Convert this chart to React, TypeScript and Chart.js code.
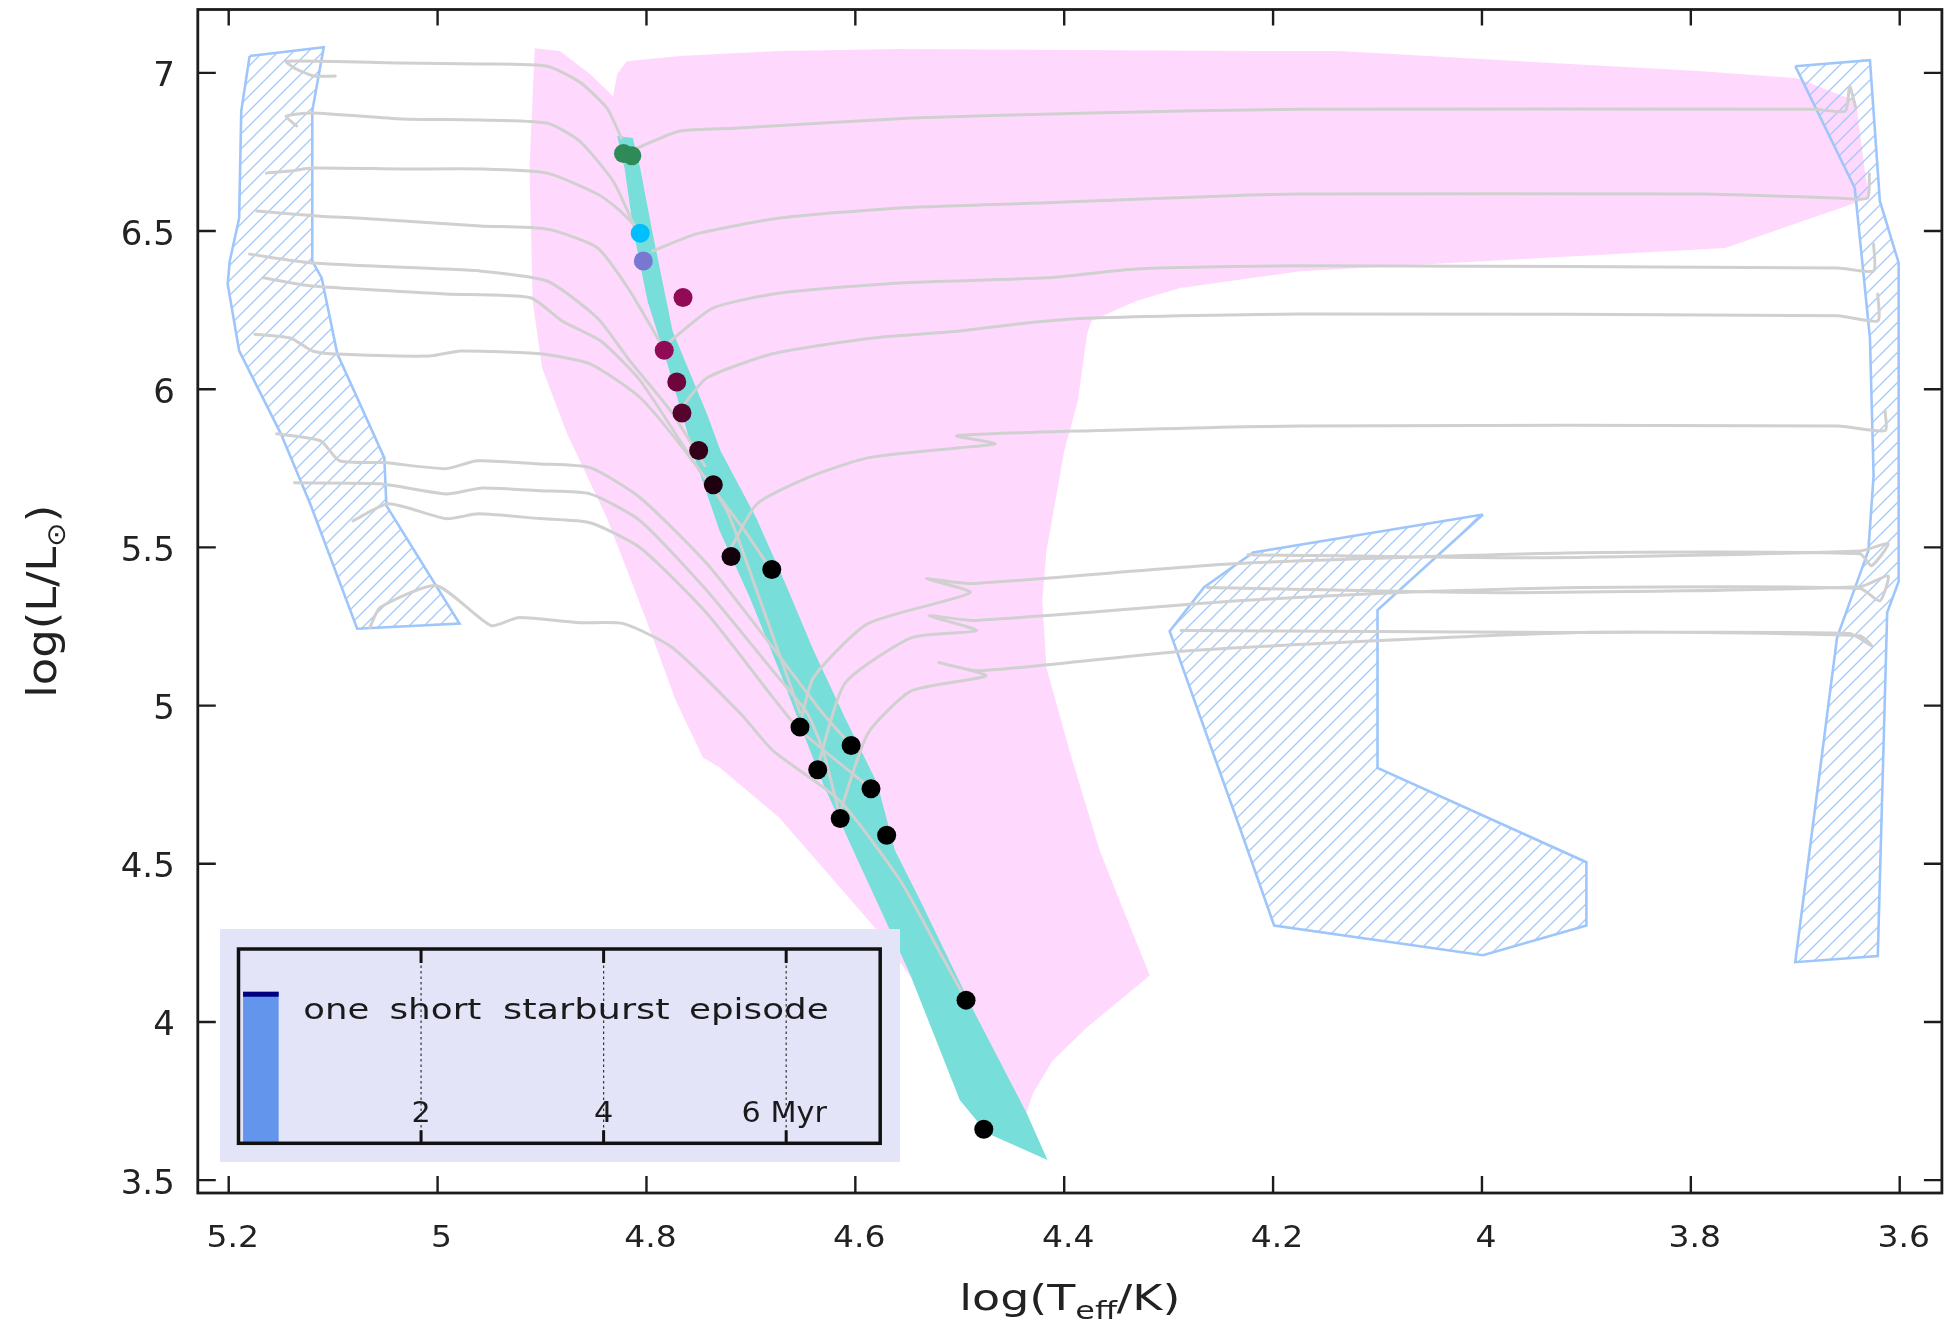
import React, { useEffect, useRef } from "react";
import { Chart, registerables } from "chart.js";
Chart.register(...registerables);

const W = 1959;
const H = 1328;
const FONT = '"DejaVu Sans", "Noto Sans", sans-serif';

// ---- layout (pixels) ----
const PLOT_LEFT = 197.8;
const PLOT_RIGHT = 1941.9;
const PLOT_TOP = 8.3;
const PLOT_BOTTOM = 1193;

// ---- axes ----
const xRange = [3.5596, 5.2296];
const yRange = [3.4594, 7.2002];
const xTickValues = [5.2, 5.0, 4.8, 4.6, 4.4, 4.2, 4.0, 3.8, 3.6];
const yTickValues = [3.5, 4.0, 4.5, 5.0, 5.5, 6.0, 6.5, 7.0];

// ---- observed stars ----
const starT = [4.822, 4.814, 4.806, 4.803, 4.765, 4.783, 4.771, 4.766, 4.75, 4.736, 4.719, 4.68, 4.653, 4.604, 4.636, 4.585, 4.6145, 4.57, 4.494, 4.477];
const starL = [6.745, 6.738, 6.493, 6.405, 6.29, 6.123, 6.023, 5.925, 5.806, 5.698, 5.471, 5.43, 4.932, 4.874, 4.797, 4.737, 4.643, 4.59, 4.069, 3.661];
const starColors = [
  "rgb(46,139,87)", "rgb(46,139,87)", "rgb(0,191,255)", "rgb(120,120,210)",
  "rgb(145,10,85)", "rgb(145,10,85)", "rgb(110,5,60)", "rgb(85,5,45)",
  "rgb(50,0,25)", "rgb(30,0,15)", "rgb(20,0,10)", "#000", "#000", "#000",
  "#000", "#000", "#000", "#000", "#000", "#000",
];

// ---- pink region ----
const pinkT = [4.907, 4.883, 4.854, 4.832, 4.828, 4.819, 4.768, 4.673, 4.557, 4.222, 4.136, 3.963, 3.789, 3.698, 3.642, 3.633, 3.629, 3.767, 4.174, 4.289, 4.331, 4.374, 4.378, 4.387, 4.4, 4.417, 4.421, 4.417, 4.395, 4.366, 4.347, 4.318, 4.378, 4.411, 4.43, 4.436, 4.5, 4.548, 4.579, 4.618, 4.673, 4.73, 4.746, 4.772, 4.801, 4.838, 4.876, 4.9, 4.909, 4.912];
const pinkL = [7.078, 7.069, 6.996, 6.926, 6.996, 7.037, 7.053, 7.069, 7.075, 7.069, 7.069, 7.037, 7.005, 6.983, 6.911, 6.68, 6.604, 6.446, 6.373, 6.32, 6.279, 6.216, 6.175, 5.963, 5.805, 5.489, 5.331, 5.12, 4.858, 4.542, 4.384, 4.147, 3.983, 3.878, 3.774, 3.712, 3.91, 4.147, 4.289, 4.438, 4.646, 4.804, 4.836, 5.016, 5.278, 5.594, 5.859, 6.068, 6.279, 6.699];

// ---- main-sequence band ----
const bandT = [4.828, 4.821, 4.812, 4.799, 4.78, 4.752, 4.73, 4.701, 4.669, 4.646, 4.631, 4.602, 4.58, 4.548, 4.5, 4.474, 4.416, 4.436, 4.487, 4.538, 4.562, 4.579, 4.61, 4.64, 4.667, 4.695, 4.729, 4.742, 4.775, 4.794, 4.806, 4.813];
const bandL = [6.8, 6.699, 6.491, 6.279, 6.08, 5.764, 5.553, 5.341, 5.079, 4.88, 4.754, 4.542, 4.385, 4.154, 3.753, 3.649, 3.564, 3.712, 4.037, 4.385, 4.542, 4.754, 4.962, 5.174, 5.386, 5.594, 5.805, 5.922, 6.184, 6.491, 6.699, 6.794];

// ---- hatched regions ----
const hatchLeftT = [5.18, 5.109, 5.12, 5.12, 5.111, 5.096, 5.051, 5.049, 4.979, 5.077, 5.122, 5.15, 5.19, 5.201, 5.199, 5.19, 5.188];
const hatchLeftL = [7.053, 7.081, 6.879, 6.405, 6.352, 6.112, 5.783, 5.632, 5.259, 5.243, 5.638, 5.859, 6.121, 6.333, 6.405, 6.541, 6.879];
const hatchMidT = [3.999, 4.219, 4.266, 4.299, 4.229, 4.199, 3.999, 3.9, 3.9, 4.1, 4.1];
const hatchMidL = [5.604, 5.484, 5.374, 5.235, 4.587, 4.305, 4.211, 4.305, 4.505, 4.803, 5.302];
const hatchRightT = [3.7, 3.6285, 3.619, 3.601, 3.601, 3.612, 3.621, 3.7, 3.66, 3.63, 3.625, 3.6285, 3.643];
const hatchRightL = [7.021, 7.04, 6.595, 6.399, 5.392, 5.294, 4.208, 4.189, 5.215, 5.49, 5.727, 6.162, 6.636];

// ---- evolutionary tracks ----
const trk01T = [4.824, 4.838, 4.864, 4.895, 4.959, 5.034, 5.145, 5.137, 5.119, 5.098];
const trk01L = [6.794, 6.889, 6.971, 7.021, 7.028, 7.031, 7.037, 7.015, 6.99, 6.99];
const trk02T = [4.812, 4.832, 4.864, 4.895, 4.959, 5.034, 5.12, 5.145, 5.135];
const trk02L = [6.519, 6.658, 6.784, 6.841, 6.851, 6.854, 6.873, 6.863, 6.832];
const trk03T = [4.806, 4.825, 4.847, 4.895, 4.959, 5.034, 5.12, 5.141, 5.164];
const trk03L = [6.5, 6.563, 6.617, 6.683, 6.696, 6.696, 6.699, 6.69, 6.683];
const trk04T = [4.785, 4.816, 4.847, 4.895, 4.959, 5.077, 5.112, 5.173];
const trk04L = [6.137, 6.311, 6.447, 6.506, 6.516, 6.541, 6.547, 6.563];
const trk05T = [4.744, 4.777, 4.816, 4.847, 4.895, 4.959, 4.992, 5.12, 5.18];
const trk05L = [5.758, 5.932, 6.09, 6.225, 6.342, 6.374, 6.38, 6.399, 6.427];
const trk06T = [4.681, 4.706, 4.749, 4.806, 4.844, 4.881, 4.911, 4.992, 5.12, 5.167];
const trk06L = [5.43, 5.553, 5.742, 6.027, 6.153, 6.216, 6.289, 6.301, 6.326, 6.352];
const trk07T = [4.653, 4.691, 4.723, 4.758, 4.806, 4.854, 4.902, 4.978, 5.008, 5.103, 5.12, 5.141, 5.175];
const trk07L = [4.978, 5.331, 5.616, 5.783, 5.973, 6.08, 6.112, 6.121, 6.105, 6.112, 6.121, 6.162, 6.174];
const trk08T = [4.604, 4.631, 4.679, 4.742, 4.806, 4.854, 4.902, 4.962, 4.992, 5.051, 5.094, 5.112, 5.154];
const trk08L = [4.874, 4.975, 5.183, 5.448, 5.657, 5.752, 5.764, 5.774, 5.749, 5.768, 5.774, 5.837, 5.859];
const trk09T = [4.615, 4.631, 4.646, 4.679, 4.742, 4.806, 4.854, 4.902, 4.957, 4.992, 5.055, 5.137];
const trk09L = [4.653, 4.858, 4.975, 5.11, 5.363, 5.584, 5.669, 5.679, 5.688, 5.669, 5.701, 5.704];
const trk10T = [4.585, 4.653, 4.679, 4.742, 4.806, 4.854, 4.902, 4.961, 4.992, 5.047, 5.081];
const trk10L = [4.738, 4.922, 5.026, 5.291, 5.499, 5.578, 5.591, 5.606, 5.591, 5.638, 5.584];
const trk11T = [4.494, 4.52, 4.557, 4.615, 4.679, 4.71, 4.775, 4.822, 4.864, 4.923, 4.949, 5.001, 5.055, 5.065];
const trk11L = [4.069, 4.226, 4.447, 4.7, 4.858, 4.975, 5.183, 5.259, 5.262, 5.278, 5.253, 5.379, 5.31, 5.246];
const trk12T = [4.809, 4.768, 4.716, 4.546, 4.374, 4.174, 3.681, 3.652, 3.648, 3.642];
const trk12L = [6.762, 6.816, 6.825, 6.857, 6.873, 6.885, 6.885, 6.879, 6.958, 6.889];
const trk13T = [4.794, 4.752, 4.672, 4.557, 4.417, 4.246, 4.174, 3.789, 3.659, 3.631, 3.629];
const trk13L = [6.437, 6.491, 6.541, 6.573, 6.589, 6.611, 6.617, 6.617, 6.604, 6.604, 6.68];
const trk14T = [4.777, 4.736, 4.672, 4.557, 4.417, 4.331, 4.174, 3.659, 3.625, 3.625];
const trk14L = [6.153, 6.257, 6.304, 6.336, 6.352, 6.38, 6.39, 6.383, 6.374, 6.459];
const trk15T = [4.765, 4.742, 4.679, 4.583, 4.5, 4.434, 4.374, 4.174, 3.659, 3.621, 3.621];
const trk15L = [5.948, 6.036, 6.112, 6.162, 6.184, 6.21, 6.225, 6.238, 6.232, 6.216, 6.301];
const trk16T = [4.719, 4.694, 4.646, 4.588, 4.5, 4.466, 4.503, 4.374, 4.174, 3.659, 3.614, 3.614];
const trk16L = [5.499, 5.638, 5.72, 5.783, 5.815, 5.828, 5.853, 5.869, 5.884, 5.884, 5.869, 5.932];
const trk17T = [4.653, 4.64, 4.588, 4.49, 4.532, 4.49, 4.234, 3.906, 3.638, 3.627, 3.611, 3.638, 3.954, 4.224];
const trk17L = [4.94, 5.089, 5.259, 5.357, 5.401, 5.386, 5.449, 5.483, 5.48, 5.442, 5.512, 5.489, 5.467, 5.477];
const trk18T = [4.635, 4.61, 4.546, 4.484, 4.529, 4.485, 4.234, 4.085, 3.906, 3.638, 3.619, 3.611, 3.638, 3.974, 4.263];
const trk18L = [4.82, 5.07, 5.215, 5.237, 5.284, 5.269, 5.331, 5.357, 5.373, 5.37, 5.331, 5.41, 5.376, 5.357, 5.373];
const trk19T = [4.614, 4.588, 4.546, 4.475, 4.52, 4.481, 4.278, 3.906, 3.638, 3.627, 3.648, 3.918, 4.288];
const trk19L = [4.669, 4.912, 5.047, 5.094, 5.136, 5.11, 5.174, 5.231, 5.221, 5.189, 5.228, 5.231, 5.237];

const tracks: [number[], number[]][] = [
  [trk01T, trk01L], [trk02T, trk02L], [trk03T, trk03L], [trk04T, trk04L],
  [trk05T, trk05L], [trk06T, trk06L], [trk07T, trk07L], [trk08T, trk08L],
  [trk09T, trk09L], [trk10T, trk10L], [trk11T, trk11L], [trk12T, trk12L],
  [trk13T, trk13L], [trk14T, trk14L], [trk15T, trk15L], [trk16T, trk16L],
  [trk17T, trk17L], [trk18T, trk18L], [trk19T, trk19L],
];

// ---- inset (star-formation history) ----
const insetRange = [0, 7.03];
const insetTickValues = [2, 4, 6];
const insetTickLabels = ["2", "4", "6 Myr"];
const burstStart = 0.05;
const burstEnd = 0.44;
const burstHeight = 0.78;
const burstTopLine = 0.767;
const insetWords = ["one", "short", "starburst", "episode"];

const pts = (t: number[], l: number[]) => t.map((v, i) => ({ x: v, y: l[i] }));
const closed = (t: number[], l: number[]) => {
  const p = pts(t, l);
  p.push({ ...p[0] });
  return p;
};
const fmt = (v: number) => String(Math.round(v * 10) / 10);

type Seg = { t: string; size: number; dy?: number; family?: string };
function measureSegs(ctx: CanvasRenderingContext2D, segs: Seg[]) {
  let w = 0;
  for (const s of segs) {
    ctx.font = `${s.size}px ${s.family ?? FONT}`;
    w += ctx.measureText(s.t).width;
  }
  return w;
}
function drawSegs(
  ctx: CanvasRenderingContext2D,
  segs: Seg[],
  x: number,
  y: number,
  opts: { width?: number; scale?: number; align?: "left" | "center" | "right" }
) {
  const nat = measureSegs(ctx, segs);
  const sx = opts.width ? opts.width / nat : opts.scale ?? 1;
  const total = nat * sx;
  let x0 = x;
  if (opts.align === "center") x0 = x - total / 2;
  else if (opts.align === "right") x0 = x - total;
  ctx.save();
  ctx.translate(x0, y);
  ctx.scale(sx, 1);
  ctx.textAlign = "left";
  ctx.textBaseline = "alphabetic";
  let cx = 0;
  for (const s of segs) {
    ctx.font = `${s.size}px ${s.family ?? FONT}`;
    ctx.fillText(s.t, cx, s.dy ?? 0);
    cx += ctx.measureText(s.t).width;
  }
  ctx.restore();
}

function makeHatch(): CanvasPattern | string {
  const c = document.createElement("canvas");
  c.width = 15;
  c.height = 15;
  const g = c.getContext("2d");
  if (!g) return "rgba(160,200,250,0.3)";
  g.strokeStyle = "rgba(160,198,250,0.95)";
  g.lineWidth = 1.3;
  g.beginPath();
  g.moveTo(-2, 17);
  g.lineTo(17, -2);
  g.moveTo(-2, 2);
  g.lineTo(2, -2);
  g.moveTo(13, 17);
  g.lineTo(17, 13);
  g.stroke();
  return g.createPattern(c, "repeat") ?? "rgba(160,200,250,0.3)";
}

const framePlugin = {
  id: "frame",
  beforeDraw(chart: any) {
    const { ctx } = chart;
    ctx.save();
    ctx.fillStyle = "#fff";
    ctx.fillRect(0, 0, chart.width, chart.height);
    ctx.restore();
  },
  afterDatasetsDraw(chart: any) {
    const { ctx, chartArea: a, scales } = chart;
    ctx.save();
    ctx.strokeStyle = "#1c1c1c";
    ctx.lineWidth = 2.4;
    ctx.beginPath();
    for (const v of xTickValues) {
      const px = scales.x.getPixelForValue(v);
      ctx.moveTo(px, a.bottom);
      ctx.lineTo(px, a.bottom - 17);
      ctx.moveTo(px, a.top);
      ctx.lineTo(px, a.top + 16);
    }
    for (const v of yTickValues) {
      const py = scales.y.getPixelForValue(v);
      ctx.moveTo(a.left, py);
      ctx.lineTo(a.left + 18, py);
      ctx.moveTo(a.right, py);
      ctx.lineTo(a.right - 18, py);
    }
    ctx.stroke();
    ctx.lineWidth = 2.8;
    ctx.strokeRect(a.left, a.top, a.right - a.left, a.bottom - a.top);

    ctx.fillStyle = "#222";
    for (const v of xTickValues) {
      const px = scales.x.getPixelForValue(v);
      drawSegs(ctx, [{ t: fmt(v), size: 30 }], px + 4, a.bottom + 53.5, { align: "center", scale: 1.1 });
    }
    for (const v of yTickValues) {
      const py = scales.y.getPixelForValue(v);
      drawSegs(ctx, [{ t: fmt(v), size: 34 }], a.left - 23, py + 13.5, { align: "right" });
    }
    // x title
    drawSegs(
      ctx,
      [
        { t: "log(T", size: 36 },
        { t: "eff", size: 25, dy: 9 },
        { t: "/K)", size: 36 },
      ],
      (a.left + a.right) / 2,
      a.bottom + 117,
      { align: "center", width: 221 }
    );
    // y title
    ctx.save();
    ctx.translate(56, (a.top + a.bottom) / 2);
    ctx.rotate(-Math.PI / 2);
    drawSegs(
      ctx,
      [
        { t: "log(L/L", size: 40 },
        { t: "\u2299", size: 26, dy: 9 },
        { t: ")", size: 40 },
      ],
      0,
      0,
      { align: "center", width: 193 }
    );
    ctx.restore();
    ctx.restore();
  },
};

const insetPlugin = {
  id: "insetDeco",
  beforeDraw(chart: any) {
    const { ctx, chartArea: a, scales } = chart;
    ctx.save();
    ctx.fillStyle = "rgb(228,228,248)";
    ctx.fillRect(0, 0, chart.width, chart.height);
    ctx.strokeStyle = "#333";
    ctx.lineWidth = 1.2;
    ctx.setLineDash([2.5, 3]);
    ctx.beginPath();
    for (const v of insetTickValues) {
      const px = scales.x.getPixelForValue(v);
      ctx.moveTo(px, a.top);
      ctx.lineTo(px, a.bottom);
    }
    ctx.stroke();
    ctx.restore();
  },
  afterDatasetsDraw(chart: any) {
    const { ctx, chartArea: a, scales } = chart;
    ctx.save();
    ctx.strokeStyle = "#111";
    ctx.lineWidth = 3;
    ctx.beginPath();
    for (const v of insetTickValues) {
      const px = scales.x.getPixelForValue(v);
      ctx.moveTo(px, a.top);
      ctx.lineTo(px, a.top + 14);
      ctx.moveTo(px, a.bottom);
      ctx.lineTo(px, a.bottom - 13);
    }
    ctx.stroke();
    ctx.lineWidth = 3.5;
    ctx.strokeRect(a.left, a.top, a.right - a.left, a.bottom - a.top);

    ctx.fillStyle = "#1a1a1a";
    insetTickValues.forEach((v, i) => {
      const px = scales.x.getPixelForValue(v);
      const lab = insetTickLabels[i];
      drawSegs(ctx, [{ t: lab, size: 28 }], px - (lab.length > 1 ? 2 : 0), a.bottom - 21, {
        align: "center",
        scale: 1.08,
      });
    });
    const wordX = [83.3, 169.4, 283, 469];
    const wordW = [66, 92, 166.6, 139.6];
    insetWords.forEach((w, i) => {
      drawSegs(ctx, [{ t: w, size: 29 }], wordX[i], 90.3, { align: "left", width: wordW[i] });
    });
    ctx.restore();
  },
};

export default function App() {
  const mainRef = useRef<HTMLCanvasElement>(null);
  const insetRef = useRef<HTMLCanvasElement>(null);

  useEffect(() => {
    const hatch = makeHatch();
    const lineBase = { pointRadius: 0, pointHoverRadius: 0, tension: 0 };
    const hatchDs = (t: number[], l: number[]) => ({
      type: "line" as const,
      data: closed(t, l),
      ...lineBase,
      fill: "shape" as any,
      backgroundColor: hatch as any,
      borderColor: "rgb(158,198,250)",
      borderWidth: 2.6,
      order: 30,
    });
    const datasets: any[] = [
      {
        type: "line",
        data: closed(pinkT, pinkL),
        ...lineBase,
        fill: "shape",
        backgroundColor: "rgb(255,217,253)",
        borderColor: "rgba(0,0,0,0)",
        borderWidth: 0,
        order: 50,
      },
      {
        type: "line",
        data: closed(bandT, bandL),
        ...lineBase,
        fill: "shape",
        backgroundColor: "rgb(120,222,218)",
        borderColor: "rgba(0,0,0,0)",
        borderWidth: 0,
        order: 40,
      },
      hatchDs(hatchLeftT, hatchLeftL),
      hatchDs(hatchMidT, hatchMidL),
      hatchDs(hatchRightT, hatchRightL),
      ...tracks.map(([t, l]) => ({
        type: "line",
        data: pts(t, l),
        pointRadius: 0,
        pointHoverRadius: 0,
        tension: 0.2,
        fill: false,
        borderColor: "rgb(208,208,208)",
        borderWidth: 3,
        borderJoinStyle: "round",
        borderCapStyle: "round",
        order: 20,
      })),
      {
        type: "scatter",
        data: pts(starT, starL),
        pointRadius: 9.5,
        pointHoverRadius: 9.5,
        pointBackgroundColor: starColors,
        pointBorderColor: starColors,
        pointBorderWidth: 0,
        showLine: false,
        order: 0,
      },
    ];

    const main = new Chart(mainRef.current as HTMLCanvasElement, {
      type: "scatter",
      data: { datasets },
      options: {
        animation: false,
        responsive: false,
        maintainAspectRatio: false,
        devicePixelRatio: 1,
        events: [],
        layout: { padding: { left: 0, top: PLOT_TOP, right: W - PLOT_RIGHT, bottom: 0 } },
        plugins: { legend: { display: false }, tooltip: { enabled: false } },
        scales: {
          x: {
            type: "linear",
            reverse: true,
            min: xRange[0],
            max: xRange[1],
            grid: { display: false, drawTicks: false },
            border: { display: false },
            ticks: { display: false },
            afterBuildTicks: (s: any) => {
              s.ticks = xTickValues.map((v) => ({ value: v }));
            },
            afterFit: (s: any) => {
              s.height = H - PLOT_BOTTOM;
            },
          },
          y: {
            type: "linear",
            min: yRange[0],
            max: yRange[1],
            grid: { display: false, drawTicks: false },
            border: { display: false },
            ticks: { display: false },
            afterBuildTicks: (s: any) => {
              s.ticks = yTickValues.map((v) => ({ value: v }));
            },
            afterFit: (s: any) => {
              s.width = PLOT_LEFT;
            },
          },
        },
      } as any,
      plugins: [framePlugin],
    });

    const inset = new Chart(insetRef.current as HTMLCanvasElement, {
      type: "scatter",
      data: {
        datasets: [
          {
            type: "line",
            data: closed([burstStart, burstStart, burstEnd, burstEnd], [0, burstHeight, burstHeight, 0]),
            pointRadius: 0,
            tension: 0,
            fill: "shape",
            backgroundColor: "rgb(100,149,237)",
            borderColor: "rgba(0,0,0,0)",
            borderWidth: 0,
            order: 2,
          },
          {
            type: "line",
            data: pts([burstStart, burstEnd], [burstTopLine, burstTopLine]),
            pointRadius: 0,
            fill: false,
            borderColor: "rgb(0,0,128)",
            borderWidth: 5,
            order: 1,
          },
        ] as any,
      },
      options: {
        animation: false,
        responsive: false,
        maintainAspectRatio: false,
        devicePixelRatio: 1,
        events: [],
        layout: { padding: { left: 18.5, top: 20, right: 19.8, bottom: 18.7 } },
        plugins: { legend: { display: false }, tooltip: { enabled: false } },
        scales: {
          x: { type: "linear", min: insetRange[0], max: insetRange[1], display: false },
          y: { type: "linear", min: 0, max: 1, display: false },
        },
      } as any,
      plugins: [insetPlugin],
    });

    return () => {
      main.destroy();
      inset.destroy();
    };
  }, []);

  return (
    <div style={{ position: "fixed", left: 0, top: 0, width: W, height: H, background: "#fff" }}>
      <canvas
        ref={mainRef}
        width={W}
        height={H}
        style={{ position: "absolute", left: 0, top: 0, width: W, height: H }}
      />
      <canvas
        ref={insetRef}
        width={680}
        height={233}
        style={{ position: "absolute", left: 220, top: 929, width: 680, height: 233 }}
      />
    </div>
  );
}
